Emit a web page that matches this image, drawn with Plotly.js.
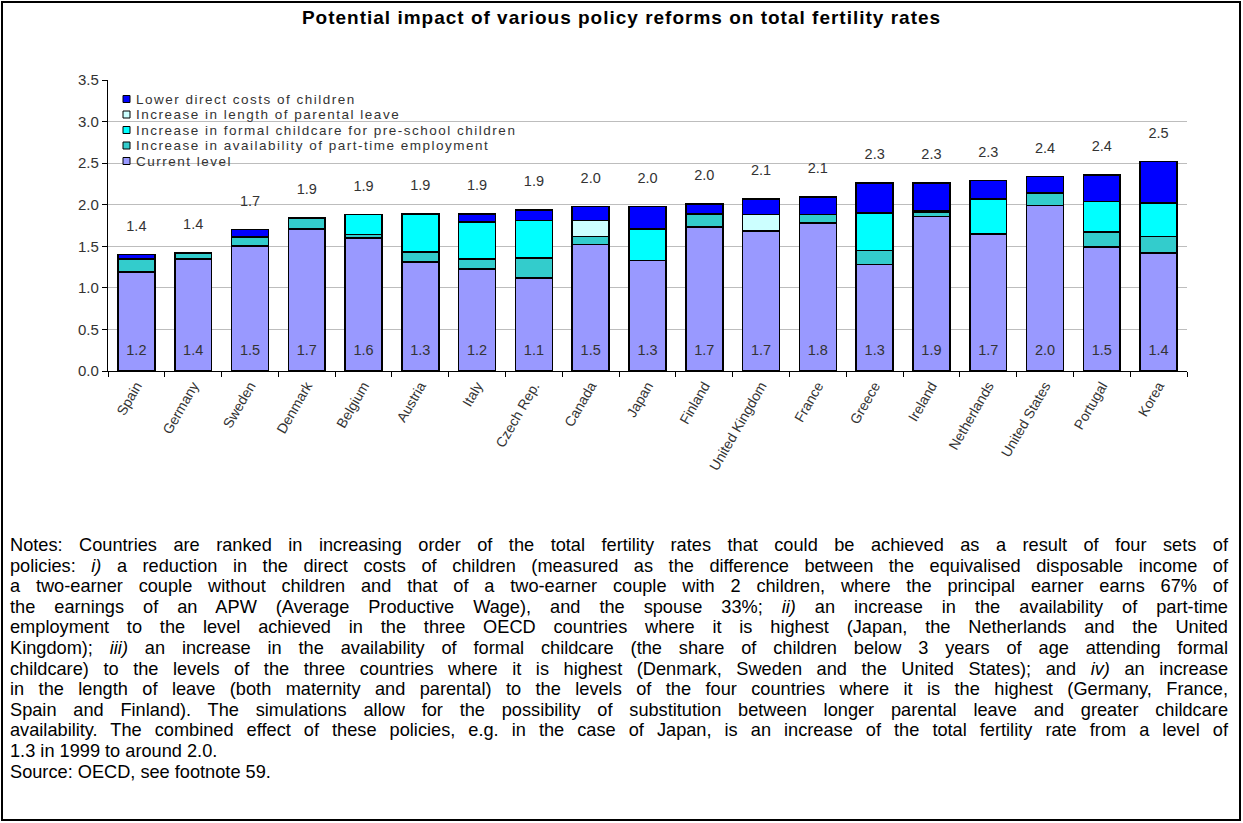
<!DOCTYPE html>
<html>
<head>
<meta charset="utf-8">
<script src="https://cdn.plot.ly/plotly-3.0.1.min.js"></script>
<style>
  html, body { margin: 0; padding: 0; background: #fff; }
  #wrap { position: relative; width: 1243px; height: 823px; overflow: hidden; }
  #chart { position: absolute; left: 0; top: 0; width: 1243px; height: 823px; }
  #frame { position: absolute; left: 1px; top: 1px; width: 1240px; height: 820px; box-sizing: border-box; border: 2px solid #000; pointer-events: none; }
  #notes { position: absolute; left: 10px; top: 535px; width: 1218px; font-family: "Liberation Sans", Arial, sans-serif; font-size: 18.2px; line-height: 20.6px; color: #000; }
  #notes div.j { text-align: justify; text-align-last: justify; white-space: nowrap; }
  #notes div.l { text-align: left; white-space: nowrap; }
</style>
</head>
<body>
<div id="wrap">
  <div id="chart"></div>
  <div id="notes">
    <div class="j">Notes: Countries are ranked in increasing order of the total fertility rates that could be achieved as a result of four sets of</div>
    <div class="j">policies: <i>i)</i> a reduction in the direct costs of children (measured as the difference between the equivalised disposable income of</div>
    <div class="j">a two-earner couple without children and that of a two-earner couple with 2 children, where the principal earner earns 67% of</div>
    <div class="j">the earnings of an APW (Average Productive Wage), and the spouse 33%; <i>ii)</i> an increase in the availability of part-time</div>
    <div class="j">employment to the level achieved in the three OECD countries where it is highest (Japan, the Netherlands and the United</div>
    <div class="j">Kingdom); <i>iii)</i> an increase in the availability of formal childcare (the share of children below 3 years of age attending formal</div>
    <div class="j">childcare) to the levels of the three countries where it is highest (Denmark, Sweden and the United States); and <i>iv)</i> an increase</div>
    <div class="j">in the length of leave (both maternity and parental) to the levels of the four countries where it is the highest (Germany, France,</div>
    <div class="j">Spain and Finland). The simulations allow for the possibility of substitution between longer parental leave and greater childcare</div>
    <div class="j">availability. The combined effect of these policies, e.g. in the case of Japan, is an increase of the total fertility rate from a level of</div>
    <div class="l">1.3 in 1999 to around 2.0.</div>
    <div class="l">Source: OECD, see footnote 59.</div>
  </div>
  <div id="frame"></div>
</div>
<script>
// ---- Data ----
var countries = ['Spain','Germany','Sweden','Denmark','Belgium','Austria','Italy','Czech Rep.','Canada','Japan','Finland','United Kingdom','France','Greece','Ireland','Netherlands','United States','Portugal','Korea'];
var currentLevel = [1.19,1.35,1.50,1.71,1.60,1.31,1.23,1.12,1.52,1.33,1.73,1.68,1.78,1.28,1.86,1.65,1.99,1.49,1.42];
var partTime     = [0.16,0.07,0.11,0.13,0.04,0.12,0.12,0.24,0.10,0.00,0.16,0.01,0.10,0.17,0.05,0.00,0.15,0.18,0.20];
var childcare    = [0.00,0.00,0.00,0.00,0.24,0.46,0.44,0.45,0.00,0.38,0.00,0.00,0.00,0.45,0.02,0.42,0.00,0.37,0.40];
var parentalLeave= [0.00,0.00,0.00,0.00,0.00,0.00,0.00,0.00,0.19,0.00,0.00,0.19,0.00,0.00,0.00,0.00,0.00,0.00,0.00];
var directCosts  = [0.05,0.00,0.09,0.00,0.00,0.00,0.10,0.13,0.17,0.27,0.12,0.19,0.21,0.36,0.33,0.22,0.20,0.32,0.50];
var totalLabels  = ['1.4','1.4','1.7','1.9','1.9','1.9','1.9','1.9','2.0','2.0','2.0','2.1','2.1','2.3','2.3','2.3','2.4','2.4','2.5'];
var currentLabels= ['1.2','1.4','1.5','1.7','1.6','1.3','1.2','1.1','1.5','1.3','1.7','1.7','1.8','1.3','1.9','1.7','2.0','1.5','1.4'];
var seriesNames  = ['Current level','Increase in availability of part-time employment','Increase in formal childcare for pre-school children','Increase in length of parental leave','Lower direct costs of children'];
var yTicks = [0,0.5,1.0,1.5,2.0,2.5,3.0,3.5];

// ---- Style ----
var colors = ['#9999FF','#33CCCC','#00FFFF','#CCFFFF','#0000FF'];
var seriesData = [currentLevel, partTime, childcare, parentalLeave, directCosts];
var FONT = '"Liberation Sans", Arial, sans-serif';
var labelOffset = 0.33;
var innerLabelLevel = 0.24;

var traces = seriesData.map(function (vals, k) {
  return {
    type: 'bar', name: seriesNames[k], x: countries, y: vals,
    marker: { color: colors[k], line: { color: '#000', width: 1.6 } },
    showlegend: false, hoverinfo: 'skip'
  };
});

var totals = countries.map(function (_, i) {
  return seriesData.reduce(function (s, arr) { return s + arr[i]; }, 0);
});

traces.push({
  type: 'scatter', mode: 'text', x: countries,
  y: totals.map(function (t) { return t + labelOffset; }),
  text: totalLabels, textposition: 'middle center',
  textfont: { family: FONT, size: 14.5, color: '#333' },
  showlegend: false, hoverinfo: 'skip', cliponaxis: false
});
traces.push({
  type: 'scatter', mode: 'text', x: countries,
  y: countries.map(function () { return innerLabelLevel; }),
  text: currentLabels, textposition: 'middle center',
  textfont: { family: FONT, size: 14.5, color: '#333' },
  showlegend: false, hoverinfo: 'skip', cliponaxis: false
});

// ---- Legend (drawn compactly, top entry = last series) ----
var plotL = 108, plotR = 1187, plotT = 80, plotB = 371;
function px2x(p) { return (p - plotL) / (plotR - plotL); }
function px2y(p) { return 1 - (p - plotT) / (plotB - plotT); }
var legTop = 99, legStep = 15.5, legSq = 7, legSqX = 123, legTextX = 134;
var shapes = [{
  type: 'rect', xref: 'paper', yref: 'paper', layer: 'between',
  x0: px2x(109.5), x1: px2x(548), y0: px2y(89), y1: px2y(171),
  fillcolor: '#fff', line: { width: 0 }
}];
var annotations = [];
for (var r = 0; r < seriesNames.length; r++) {
  var k = seriesNames.length - 1 - r;
  var cy = legTop + r * legStep;
  shapes.push({
    type: 'rect', xref: 'paper', yref: 'paper', layer: 'above',
    x0: px2x(legSqX), x1: px2x(legSqX + legSq), y0: px2y(cy + legSq / 2), y1: px2y(cy - legSq / 2),
    fillcolor: colors[k], line: { color: '#000', width: 1 }
  });
  annotations.push({
    xref: 'paper', yref: 'paper', x: px2x(legTextX), y: px2y(cy),
    xanchor: 'left', yanchor: 'middle', showarrow: false,
    text: '<span style="letter-spacing:1.5px">' + seriesNames[k] + '</span>',
    font: { family: FONT, size: 13.5, color: '#333' }
  });
}

var layout = {
  width: 1243, height: 823,
  paper_bgcolor: 'rgba(0,0,0,0)', plot_bgcolor: '#fff',
  margin: { l: plotL, r: 1243 - plotR, t: plotT, b: 823 - plotB, pad: 0 },
  barmode: 'stack', bargap: 0.35,
  showlegend: false,
  title: {
    text: '<b><span style="letter-spacing:1px">Potential impact of various policy reforms on total fertility rates</span></b>',
    font: { family: FONT, size: 19, color: '#000' },
    x: 0.5, xref: 'container', xanchor: 'center',
    y: 1 - 17 / 823, yref: 'container', yanchor: 'middle'
  },
  shapes: shapes,
  annotations: annotations,
  xaxis: {
    type: 'category', categoryorder: 'array', categoryarray: countries,
    range: [-0.5, countries.length - 0.5],
    tickangle: -60, tickfont: { family: FONT, size: 14, color: '#333' },
    showline: true, linecolor: '#000', linewidth: 1.2,
    ticks: 'outside', ticklen: 5, tickcolor: '#000', tickson: 'boundaries',
    showgrid: false, zeroline: false, fixedrange: true
  },
  yaxis: {
    range: [0, 3.5], tickvals: yTicks, tickformat: '.1f',
    tickfont: { family: FONT, size: 15, color: '#333' },
    showline: true, linecolor: '#000', linewidth: 1.2,
    ticks: 'outside', ticklen: 5, tickcolor: '#000',
    showgrid: true, gridcolor: '#bdbdbd', gridwidth: 1.2,
    zeroline: false, fixedrange: true
  }
};

Plotly.newPlot('chart', traces, layout, { displayModeBar: false, staticPlot: true });
</script>
</body>
</html>
